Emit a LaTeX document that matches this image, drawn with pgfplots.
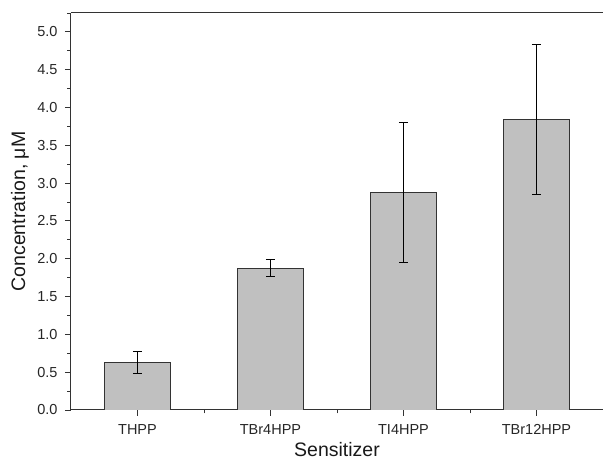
\documentclass[border=0pt]{standalone}
\usepackage{pgfplots}
\pgfplotsset{compat=1.18}
\usepackage{fontspec}
\setmainfont{Liberation Sans}
\definecolor{bargray}{HTML}{C0C0C0}
\definecolor{axgray}{HTML}{333333}
\begin{document}
\begin{tikzpicture}
\begin{axis}[
  name=ax,
  at={(0,0)}, anchor=south west,
  scale only axis,
  width=532pt, height=397pt,
  xmin=0.5, xmax=4.5,
  ymin=0, ymax=5.25,
  axis x line=box,
  axis y line=left,
  axis line style={-, line width=1pt, axgray},
  xtick={1,2,3,4},
  xticklabels={THPP,TBr4HPP,TI4HPP,TBr12HPP},
  minor xtick={1.5,2.5,3.5},
  xtick pos=bottom,
  ytick={0,0.5,...,5.0},
  minor ytick={0.25,0.75,...,5.25},
  ytick pos=left,
  tick align=outside,
  major tick length=6pt,
  minor tick length=3.5pt,
  tick style={axgray, line width=0.9pt},
  yticklabel style={/pgf/number format/fixed, /pgf/number format/fixed zerofill, /pgf/number format/precision=1, /pgf/number format/assume math mode=true, xshift=-4pt},
  ticklabel style={font=\fontsize{14.5}{16}\selectfont, text=black!85},
  xticklabel style={yshift=-5pt},
  xlabel={Sensitizer},
  ylabel={Concentration, μM},
  label style={font=\fontsize{19.5}{22}\selectfont, text=black!90},
  xlabel style={at={(axis description cs:0.5,0)}, anchor=center, yshift=-40pt},
  ylabel style={at={(axis description cs:0,0.5)}, anchor=center, rotate=0, yshift=51pt},
]
\addplot[ybar, bar width=0.5, fill=bargray, draw=axgray, line width=0.9pt,
  error bars/.cd, y dir=both, y explicit,
  error bar style={black, line width=0.8pt},
  error mark options={rotate=90, mark size=4.5pt, line width=0.8pt, black}]
  coordinates {
  (1,0.63) +- (0,0.15)
  (2,1.876) +- (0,0.11)
  (3,2.88) +- (0,0.925)
  (4,3.84) +- (0,0.99)
  };
\end{axis}
\pgfresetboundingbox
\useasboundingbox (-71pt,-50pt) rectangle (532pt,410pt);
\end{tikzpicture}
\end{document}
